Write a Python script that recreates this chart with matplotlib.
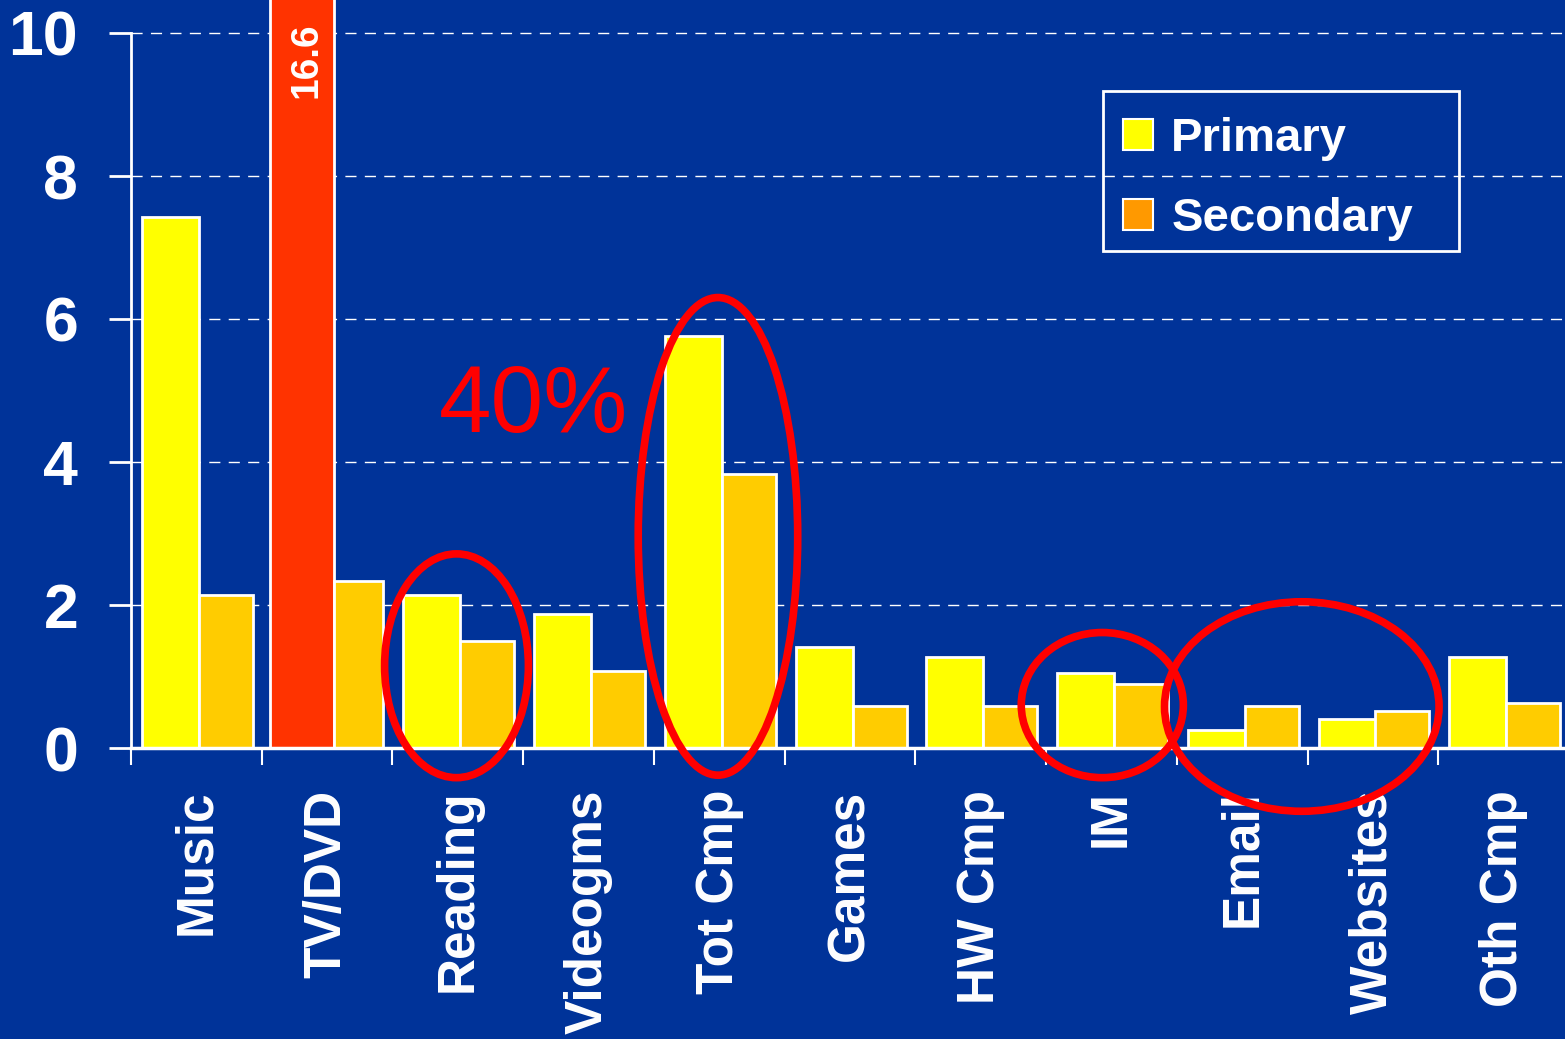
import numpy as np
import matplotlib
matplotlib.use("Agg")
import matplotlib.pyplot as plt
from matplotlib.patches import Ellipse, Patch, Rectangle

# hours per week by activity
categories = ['Music', 'TV/DVD', 'Reading', 'Videogms', 'Tot Cmp', 'Games',
              'HW Cmp', 'IM', 'Email', 'Websites', 'Oth Cmp']
primary = [7.43, 16.6, 2.14, 1.87, 5.76, 1.41, 1.27, 1.05, 0.25, 0.40, 1.27]
secondary = [2.14, 2.33, 1.50, 1.08, 3.83, 0.59, 0.59, 0.90, 0.59, 0.52, 0.63]
yticks = [0, 2, 4, 6, 8, 10]

BG = '#003399'
YELLOW = '#ffff00'
GOLD = '#ffcc00'
ORANGE = '#ff9900'
RED_BAR = '#ff3300'
RED = '#ff0000'

plt.rcParams['font.family'] = ['Liberation Sans', 'DejaVu Sans']
plt.rcParams['font.weight'] = 'bold'

W, H = 1565, 1039
fig = plt.figure(figsize=(W / 100, H / 100), dpi=100, facecolor=BG)
ax = fig.add_axes([131 / W, (H - 748) / H, (1569 - 131) / W, 748 / H])
ax.set_facecolor(BG)

x = np.arange(len(categories))
ymax = 10
big = np.array(primary) > ymax

# bar geometry (group units); the off-scale bar is drawn a bit wider
pw = np.where(big, 0.49, 0.436)
pc = np.where(big, -0.191, -0.198)
sw = np.where(big, 0.375, 0.413)
sc = np.where(big, 0.241, 0.226)
pcols = [RED_BAR if b else YELLOW for b in big]

ax.bar(x + pc, primary, pw, color=pcols, edgecolor='white', linewidth=2, zorder=3)
ax.bar(x + sc, secondary, sw, color=GOLD, edgecolor='white', linewidth=2, zorder=3)

for i in np.flatnonzero(big):
    ax.text(x[i] - 0.161, 10.14, '{:.1f}'.format(primary[i]), rotation=90,
            ha='center', va='top', color='white', fontsize=28, fontweight='bold', zorder=4)

ax.set_xlim(-0.5, len(categories) - 0.5)
ax.set_ylim(0, 748 / 71.5)

# grid
for yv in yticks[1:]:
    ax.axhline(yv, color='white', lw=1, ls=(0, (8, 6)), zorder=1)

ax.set_yticks(yticks)
ax.set_yticklabels([str(t) for t in yticks], fontsize=45, fontweight='bold', color='white')
ax.tick_params(axis='y', direction='out', length=16, width=2, color='white', pad=22)

ax.set_xticks(x)
ax.set_xticklabels(categories, rotation=90, fontsize=37, fontweight='bold',
                   color='white', va='top', ha='center')
ax.set_xticks(np.arange(len(categories) + 1) - 0.5, minor=True)
ax.tick_params(axis='x', which='major', length=0, pad=30)
ax.tick_params(axis='x', which='minor', direction='out', length=12, width=1.5, color='white')

for s in ['top', 'right']:
    ax.spines[s].set_visible(False)
ax.spines['left'].set_color('white')
ax.spines['left'].set_linewidth(2)
ax.spines['left'].set_bounds(0, ymax)
ax.spines['bottom'].set_color('white')
ax.spines['bottom'].set_linewidth(2.5)
ax.spines['bottom'].set_zorder(5)

# highlighted groups
rings = [(1.99, 1.15, 1.10, 3.13),
         (3.99, 2.96, 1.22, 6.68),
         (6.93, 0.60, 1.24, 2.03),
         (8.456, 0.58, 2.10, 2.93)]
for cx, cy, ew, eh in rings:
    ax.add_patch(Ellipse((cx, cy), ew, eh, fill=False, edgecolor=RED, lw=5.5,
                         zorder=6, clip_on=False))

ax.text(2.58, 4.76, '40%', color=RED, fontsize=68, fontweight='normal',
        ha='center', va='center', zorder=6)

# legend: entries placed inside a separately drawn frame
handles = [Patch(facecolor=YELLOW, edgecolor='white', lw=1.5),
           Patch(facecolor=ORANGE, edgecolor='white', lw=1.5)]
leg = fig.legend(handles, ['Primary', 'Secondary'], loc='upper left',
                 bbox_to_anchor=(1123 / W, 1 - 117 / H),
                 prop={'weight': 'bold', 'size': 34},
                 handlelength=0.64, handleheight=0.64, handletextpad=0.38,
                 labelspacing=0.76, borderpad=0, borderaxespad=0, frameon=False)
for t in leg.get_texts():
    t.set_color('white')
fig.patches.append(Rectangle((1103 / W, 1 - 251 / H), 356 / W, 160 / H,
                             transform=fig.transFigure, fill=False,
                             edgecolor='white', lw=2))

fig.savefig('out.png', dpi=100, facecolor=BG)
